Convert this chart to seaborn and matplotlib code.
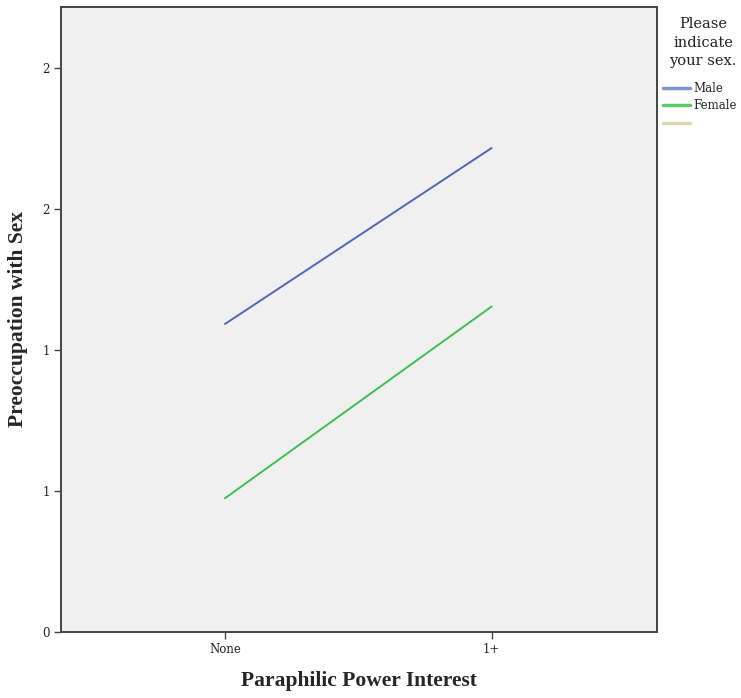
import pandas as pd
import seaborn as sns
import matplotlib.pyplot as plt
from matplotlib.lines import Line2D

# values
power_levels = ['None', '1+']
male_means = [1.092, 1.716]
female_means = [0.474, 1.154]
sex_levels = ['Male', 'Female']
ytick_values = [0, 0.5, 1.0, 1.5, 2.0]
ytick_labels = ['0', '1', '1', '2', '2']

palette = {'Male': '#4E66BA', 'Female': '#3CBE52'}
legend_colours = ['#7F93D0', '#5ACB68', '#DCD7AE']

df = pd.DataFrame({
    'Paraphilic Power Interest': power_levels * 2,
    'Preoccupation with Sex': male_means + female_means,
    'Sex': ['Male'] * 2 + ['Female'] * 2,
})

sns.set_style('white')
plt.rcParams['font.family'] = ['Liberation Serif', 'DejaVu Serif']

fig = plt.figure(figsize=(7.41, 6.98), dpi=100)
ax = fig.add_axes([0.0823, 0.0946, 0.8043, 0.8954])
ax.set_facecolor('#f0f0f0')

sns.lineplot(data=df, x='Paraphilic Power Interest', y='Preoccupation with Sex',
             hue='Sex', hue_order=sex_levels, palette=palette,
             linewidth=1.4, legend=False, ax=ax, sort=False)

ax.set_xlim(-0.615, 1.62)
ax.set_ylim(0, 2.216)
ax.set_yticks(ytick_values)
ax.set_yticklabels(ytick_labels)

for s in ax.spines.values():
    s.set_color('#444444')
    s.set_linewidth(1.4)
ax.tick_params(axis='both', direction='out', length=5, width=1,
               color='#444444', labelsize=8.5, labelcolor='#222222', pad=3,
               left=True, bottom=True)
for lab in ax.get_xticklabels() + ax.get_yticklabels():
    lab.set_family('DejaVu Serif')

ax.set_xlabel('Paraphilic Power Interest', fontsize=15.5, fontweight='bold', labelpad=11)
ax.set_ylabel('Preoccupation with Sex', fontsize=15.5, fontweight='bold', labelpad=10)

# legend title drawn separately so the gap to the entries matches
fig.text(0.9487, 0.9756, 'Please\nindicate\nyour sex.', ha='center', va='top',
         family='DejaVu Serif', fontsize=10.5, linespacing=1.42, color='#222222')

handles = [Line2D([], [], color=c, lw=2.5) for c in legend_colours]
leg = fig.legend(handles, sex_levels + [''],
                 loc='upper left', bbox_to_anchor=(0.887, 0.891), frameon=False,
                 borderpad=0, handlelength=2.3, handletextpad=0.25, labelspacing=0.37,
                 prop={'family': 'DejaVu Serif', 'size': 8.5})

fig.savefig('out.png', dpi=100)
